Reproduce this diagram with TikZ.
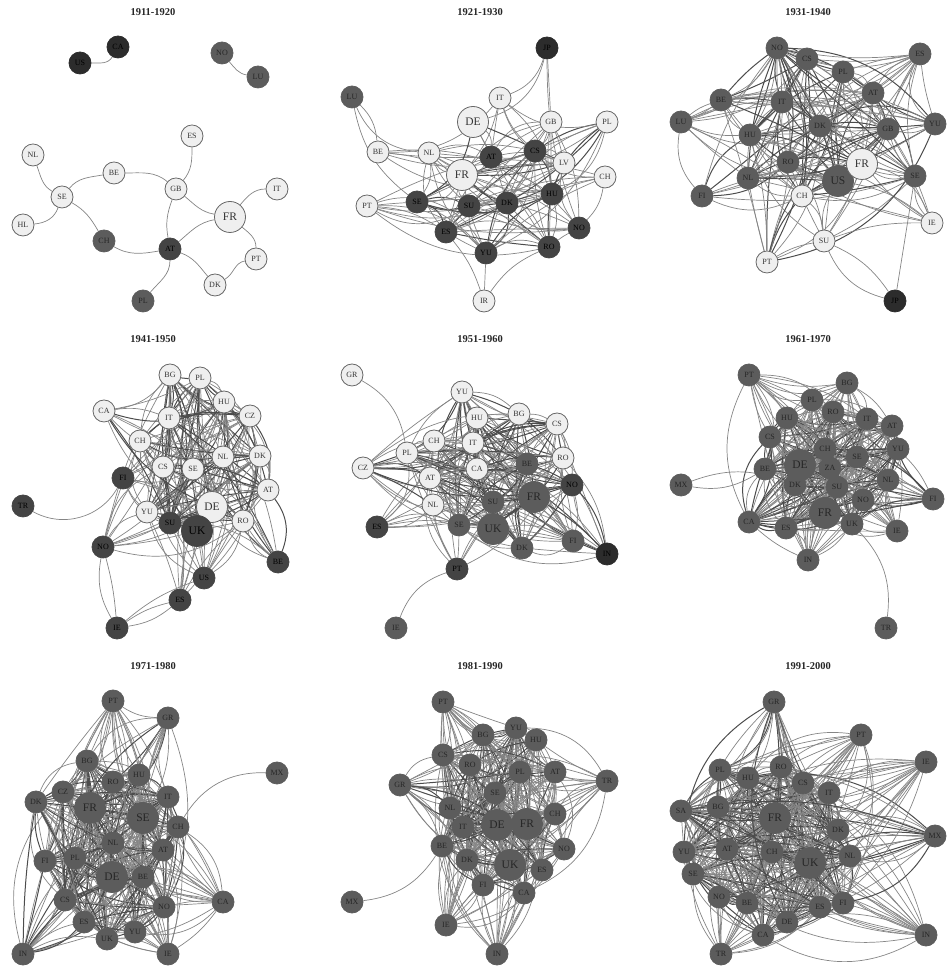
\documentclass[tikz,border=0pt]{standalone}
\usepackage{fontspec}
\setmainfont{Liberation Serif}
\pgfdeclarelayer{bg}
\pgfsetlayers{bg,main}
\definecolor{cg}{HTML}{5C5C5C}
\definecolor{cd}{HTML}{444444}
\definecolor{cv}{HTML}{2C2C2C}
\definecolor{cl}{HTML}{EFEFEF}
\definecolor{ce}{HTML}{858585}
\tikzset{
  every node/.append style={inner sep=0pt},
  base/.style={circle,draw=#1,line width=.8pt,minimum size=22pt,font=\fontsize{8}{9}\selectfont},
  nL/.style={base=black!60,fill=cl,text=black!80},
  nG/.style={base=cg,fill=cg,text=black!85},
  nD/.style={base=cd,fill=cd,text=black},
  nV/.style={base=cv,fill=cv,text=black},
  bL/.style={nL,minimum size=31pt,font=\fontsize{11.5}{12}\selectfont},
  bG/.style={nG,minimum size=31pt,font=\fontsize{11.5}{12}\selectfont},
  bD/.style={nD,minimum size=31pt,font=\fontsize{11.5}{12}\selectfont},
  edge/.style={draw=ce,line width=.7pt},
  edgeb/.style={draw=black!70,line width=1pt},
  ptitle/.style={font=\fontsize{10.5}{12}\selectfont\bfseries,text=black!85},
}
\newcommand\placenodes[2]{%
  \foreach \lab/\x/\y/\k [count=\i] in {#2}{%
    \node[\k,alias=#1-\lab] (#1-\i) at (\x,{968-\y}) {\lab};
  }%
}
% id, keep of 10, inner count, mesh count, seed, nodes, extra edges
\newcommand\panel[7]{%
  \placenodes{#1}{#6}%
  \begin{pgfonlayer}{bg}
    \foreach \i in {1,...,#4}{%
      \foreach \j in {\i,...,#4}{%
        \ifnum\j>\i\relax
          \ifnum\j>#3\relax\ifnum\i>#3\relax\def\skipme{1}\else\def\skipme{0}\fi\else\def\skipme{0}\fi
          \ifnum\skipme=0\relax
            \pgfmathtruncatemacro\v{mod(\i*\i*7+\j*\j*11+\i*\j*5+#5,10)}%
            \ifnum\v<#2\relax
              \pgfmathtruncatemacro\bd{mod(\i*13+\j*29+#5,61)-30}%
              \pgfmathtruncatemacro\st{mod(\i*3+\j*7+#5,9)}%
              \ifnum\st=0\relax
                \draw[edgeb] (#1-\i) to[bend left=\bd] (#1-\j);
              \else
                \draw[edge] (#1-\i) to[bend left=\bd] (#1-\j);
              \fi
            \fi
          \fi
          % second, heavier layer among the inner nodes
          \ifnum\j>#3\relax\else
            \pgfmathtruncatemacro\w{mod(\i*\j*3+\i*5+\j*\j*3+#5,10)}%
            \pgfmathtruncatemacro\lim{#2-5}%
            \ifnum\w<\lim\relax
              \pgfmathtruncatemacro\bd{mod(\i*17+\j*23+#5,41)-20}%
              \draw[edgeb] (#1-\i) to[bend right=\bd] (#1-\j);
            \fi
          \fi
        \fi
      }%
    }%
    \foreach \a/\b/\c in {#7}{%
      \draw[edge] (#1-\a) to[bend left=\c] (#1-\b);
    }%
  \end{pgfonlayer}%
}
\begin{document}
\begin{tikzpicture}[x=1pt,y=1pt]
\useasboundingbox (0,0) rectangle (951,968);
% titles
\node[ptitle] (t1) at (153,956) {1911-1920};
\node[ptitle] (t2) at (480,956) {1921-1930};
\node[ptitle] (t3) at (808,956) {1931-1940};
\node[ptitle] (t4) at (153,629) {1941-1950};
\node[ptitle] (t5) at (480,629) {1951-1960};
\node[ptitle] (t6) at (808,629) {1961-1970};
\node[ptitle] (t7) at (153,302) {1971-1980};
\node[ptitle] (t8) at (480,302) {1981-1990};
\node[ptitle] (t9) at (808,302) {1991-2000};
% panel 1
\placenodes{a}{US/80/63/nV,CA/118/47/nV,NO/222/53/nG,LU/258/77/nG,ES/192/136/nL,NL/33/155/nL,SE/62/197/nL,BE/114/173/nL,GB/176/189/nL,HL/23/225/nL,CH/104/241/nG,AT/170/249/nD,FR/230/217/bL,IT/277/189/nL,PT/256/259/nL,DK/215/285/nL,PL/143/301/nG}
\begin{pgfonlayer}{bg}
\foreach \p/\q/\o/\n in {NL/SE/-70/150,SE/BE/50/190,SE/HL/-110/5,SE/CH/-30/120,BE/GB/0/140,ES/GB/-90/50,GB/FR/-40/170,GB/AT/-110/100,FR/AT/190/40,FR/IT/50/180,FR/PT/-40/90,PT/DK/190/30,DK/AT/130/-20,CH/AT/-30/190,AT/PL/-90/50,US/CA/0/-120,NO/LU/-50/170}{
  \draw[edge] (a-\p) to[out=\o,in=\n] (a-\q);
}
\end{pgfonlayer}
% panel 2
\panel{b}{6}{12}{20}{3}{DK/507/203/nD,SU/469/206/nD,FR/462/175/bL,AT/491/157/nD,CS/535/151/nD,LV/564/163/nL,HU/552/194/nD,ES/446/232/nD,SE/417/202/nD,NO/579/228/nD,RO/549/247/nD,YU/486/253/nD,NL/429/153/nL,BE/378/152/nL,DE/473/122/bL,IT/500/98/nL,GB/551/122/nL,PL/607/122/nL,CH/605/177/nL,PT/367/206/nL,JP/547/48/nV,LU/352/97/nG,IR/484/301/nL}{JP/IT/25,JP/DE/30,JP/GB/0,JP/NO/-10,LU/BE/20,LU/NL/-30,LU/SE/-20,IR/YU/0,IR/ES/-10,IR/RO/15,IT/PL/-25,PT/YU/40,BE/IT/-25}
% panel 3
\panel{c}{7}{16}{22}{5}{CS/807/59/nG,PL/843/72/nG,AT/873/93/nG,IT/782/102/nG,HU/750/135/nG,DK/820/126/nG,GB/888/129/nG,RO/788/162/nG,NL/748/178/nG,US/838/181/bG,FR/862/164/bL,SE/915/176/nG,CH/802/196/nL,BE/721/100/nG,NO/777/48/nG,YU/935/124/nG,ES/920/54/nG,LU/681/122/nG,FI/702/196/nG,IE/932/223/nL,SU/824/241/nL,PT/767/262/nL,JP/895/301/nV}{NO/ES/-20,ES/YU/-40,LU/FI/-25,JP/SU/25,JP/SU/-15,JP/SE/0,PT/SU/10,SU/IE/10,LU/BE/10}
% panel 4
\panel{d}{8}{16}{22}{7}{BG/170/375/nL,PL/200/378/nL,HU/224/402/nL,CZ/250/416/nL,IT/169/418/nL,CH/140/441/nL,DK/260/456/nL,NL/223/457/nL,CS/163/467/nL,SE/193/469/nL,AT/268/490/nL,DE/212/507/bL,RO/243/521/nL,YU/147/512/nL,SU/170/523/nD,UK/197/531/bD,CA/104/411/nL,FI/123/478/nD,NO/103/547/nD,BE/278/562/nD,US/204/578/nD,ES/180/600/nD,IE/117/628/nD,TR/23/506/nD}{TR/FI/-45,IE/NO/-5,IE/NO/20,IE/ES/10,IE/ES/-15,IE/US/10,BE/AT/60,CA/BG/-20}
% panel 5
\panel{e}{8}{18}{23}{11}{YU/462/392/nL,HU/477/418/nL,BG/519/414/nL,CS/557/424/nL,CH/434/441/nL,PL/407/453/nL,IT/473/443/nL,CA/477/469/nL,AT/430/478/nL,RO/563/458/nL,BE/527/464/nG,NO/572/485/nD,SU/493/502/nG,FR/534/497/bG,NL/433/505/nL,SE/459/525/nG,UK/493/529/bG,DK/522/548/nG,CZ/363/468/nL,ES/377/527/nD,FI/573/541/nG,IN/607/554/nV,PT/457/569/nD,GR/352/375/nL,IE/396/628/nG}{GR/PL/25,IE/PT/25}
% panel 6
\panel{f}{9}{20}{25}{13}{PL/812/400/nG,RO/833/412/nG,HU/787/418/nG,IT/867/419/nG,AT/892/426/nG,CS/770/437/nG,YU/898/449/nG,CH/825/449/nG,SE/857/457/nG,DE/800/465/bG,BE/765/469/nG,NL/888/480/nG,DK/795/485/nG,SU/837/487/nG,NO/863/500/nG,FR/825/513/bG,UK/852/524/nG,ES/786/528/nG,ZA/830/468/nG,CA/749/522/nG,BG/847/383/nG,PT/749/375/nG,FI/933/499/nG,IE/897/531/nG,IN/808/560/nG,MX/681/485/nG,TR/886/628/nG}{MX/BE/-20,MX/DK/20,TR/UK/-25,PT/BG/-25,PT/BG/-12}
% panel 7
\panel{g}{9}{20}{25}{17}{BG/87/761/nG,HU/139/775/nG,RO/113/782/nG,CZ/63/792/nG,IT/168/797/nG,FR/90/808/bG,SE/143/818/bG,CH/178/827/nG,NL/113/843/nG,AT/163/850/nG,FI/45/861/nG,PL/75/858/nG,DE/112/877/bG,BE/143/877/nG,CS/65/900/nG,NO/164/907/nG,ES/84/922/nG,YU/135/932/nG,UK/107/939/nG,DK/36/802/nG,PT/113/701/nG,GR/168/718/nG,CA/223/902/nG,IE/168/954/nG,IN/23/954/nG,MX/277/773/nG}{MX/CH/-30,IN/DK/-40,PT/GR/-15,CA/IE/10}
% panel 8
\panel{h}{9}{20}{25}{19}{YU/516/728/nG,BG/483/735/nG,HU/536/740/nG,CS/443/755/nG,RO/470/765/nG,PL/520/772/nG,AT/555/772/nG,SE/495/793/nG,NL/450/808/nG,CH/555/814/nG,IT/463/827/nG,DE/497/825/bG,FR/527/824/bG,BE/442/846/nG,NO/564/849/nG,DK/467/860/nG,UK/510/865/bG,ES/542/870/nG,FI/483/885/nG,CA/524/893/nG,PT/443/702/nG,TR/607/781/nG,GR/400/785/nG,IE/446/925/nG,IN/497/954/nG,MX/352/902/nG}{MX/BE/-25,PT/YU/-40,GR/IE/40}
% panel 9
\panel{i}{10}{21}{27}{23}{PL/720/770/nG,RO/781/767/nG,HU/748/778/nG,CS/803/783/nG,IT/829/793/nG,BG/718/807/nG,FR/775/818/bG,DK/838/830/nG,AT/727/849/nG,YU/684/852/nG,CH/772/852/nG,UK/810/863/bG,NL/850/856/nG,SE/693/874/nG,NO/719/897/nG,BE/747/903/nG,ES/820/907/nG,FI/843/903/nG,DE/787/922/nG,CA/763/935/nG,SA/681/811/nG,GR/774/702/nG,PT/861/735/nG,IE/926/762/nG,MX/935/836/nG,IN/926/935/nG,TR/721/954/nG}{GR/PL/30,SA/PL/-10}
\end{tikzpicture}
\end{document}
